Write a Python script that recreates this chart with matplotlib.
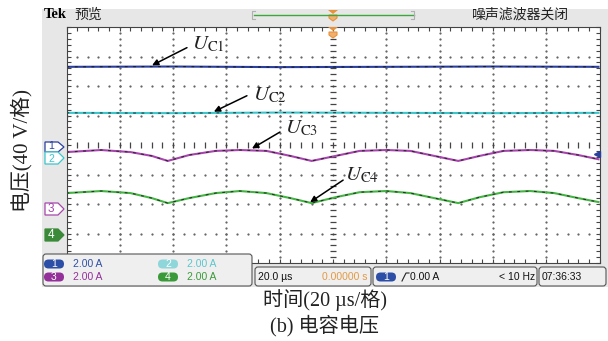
import numpy as np
import matplotlib.pyplot as plt
from matplotlib.patches import Rectangle, FancyBboxPatch, Polygon

W, H = 608, 341

# ---- data (time in us, trace level in divisions) ----
t_flat = [-100, -60, -20, 20, 60, 100]
uc1 = [2.65, 2.66, 2.64, 2.65, 2.66, 2.65]
uc2 = [1.09, 1.08, 1.10, 1.09, 1.08, 1.09]

t_wave = [-100, -87, -76, -68, -62, -54, -44, -35, -25, -16, -8, 1,
          10, 20, 29, 38, 47, 55, 64, 74, 83, 92, 100]
uc3 = [-0.24, -0.17, -0.24, -0.37, -0.54, -0.34, -0.20, -0.17, -0.20, -0.37, -0.54, -0.37,
       -0.20, -0.17, -0.20, -0.37, -0.54, -0.37, -0.20, -0.17, -0.20, -0.34, -0.49]
uc4 = [-1.63, -1.56, -1.63, -1.80, -1.97, -1.80, -1.63, -1.56, -1.63, -1.80, -1.97, -1.77,
       -1.60, -1.56, -1.63, -1.80, -1.97, -1.77, -1.60, -1.56, -1.63, -1.80, -1.94]

trace_names = [r'$U_{\mathrm{C1}}$', r'$U_{\mathrm{C2}}$', r'$U_{\mathrm{C3}}$', r'$U_{\mathrm{C4}}$']
trace_colors = ['#2b3f9e', '#3cc6cc', '#a645ac', '#45b445']
ch_ids = ['1', '2', '3', '4']
ch_scales = ['2.00 A', '2.00 A', '2.00 A', '2.00 A']
ch_text_colors = ['#2f4fa8', '#5cc6cc', '#93309a', '#3a9a3a']

plt.rcParams['font.family'] = ['Liberation Sans', 'Noto Sans CJK SC']
plt.rcParams['mathtext.fontset'] = 'stix'
SERIF = ['Liberation Serif', 'Noto Sans CJK SC']

fig = plt.figure(figsize=(W / 100, H / 100), dpi=100)

# gray scope frame (pixel coordinates)
bg = fig.add_axes([0, 0, 1, 1], zorder=0)
bg.set_xlim(0, W)
bg.set_ylim(H, 0)
bg.axis('off')
bg.add_patch(Rectangle((42, 9), 566, 278, fc='#e7e7e7', ec='none'))

# ---- graticule ----
x0, x1, y0, y1 = 66.5, 599.5, 27, 263
ax = fig.add_axes([x0 / W, 1 - y1 / H, (x1 - x0) / W, (y1 - y0) / H], zorder=1)
ax.set_xlim(-100, 100)
ax.set_ylim(-4, 4)
ax.set_facecolor('white')
for s in ax.spines.values():
    s.set_color('#444444')
    s.set_linewidth(0.8)
ax.set_xticks(np.arange(-100, 101, 20))
ax.set_yticks(np.arange(-4, 5, 1))
ax.set_xticks(np.arange(-100, 101, 4), minor=True)
ax.set_yticks(np.arange(-4, 4.01, 0.2), minor=True)
ax.tick_params(which='both', direction='in', top=True, right=True,
               labelbottom=False, labelleft=False, color='#444444', width=0.8, length=3)

yy = np.arange(-4, 4.01, 0.2)
xx = np.arange(-100, 101, 4)
for gx in np.arange(-80, 81, 20):
    if gx == 0:
        continue
    ax.plot(np.full_like(yy, gx), yy, ls='none', marker='s', ms=0.6, color='#666666')
for gy in np.arange(-3, 4, 1):
    if gy == 0:
        continue
    ax.plot(xx, np.full_like(xx, gy, dtype=float), ls='none', marker='s', ms=0.6, color='#666666')
# center cross with small ticks
ax.plot(np.zeros_like(yy), yy, ls='none', marker='_', ms=4, mew=0.9, color='#444444')
ax.plot(xx, np.zeros_like(xx, dtype=float), ls='none', marker='|', ms=4, mew=0.9, color='#444444')

# ---- traces ----
for t, v, c in [(t_flat, uc1, trace_colors[0]), (t_flat, uc2, trace_colors[1]),
                (t_wave, uc3, trace_colors[2]), (t_wave, uc4, trace_colors[3])]:
    ax.plot(t, v, color=c, lw=1.5, solid_capstyle='butt')
    ax.plot(t, v, color='#111111', lw=0.8, dashes=(2.5, 5), alpha=0.75)

# ---- labels with arrows ----
arrows = [((-67.9, 2.70), (-54.8, 3.30), (-53.0, 3.42)),
          ((-44.7, 1.13), (-32.3, 1.67), (-30.0, 1.70)),
          ((-30.4, -0.12), (-19.9, 0.44), (-18.0, 0.58)),
          ((-8.6, -1.94), (3.8, -1.19), (4.5, -1.02))]
for name, (tip, tail, txt) in zip(trace_names, arrows):
    ax.annotate('', xy=tip, xytext=tail,
                arrowprops=dict(arrowstyle='-|>', color='black', lw=1.1, mutation_scale=9,
                                shrinkA=0, shrinkB=0))
    ax.text(txt[0], txt[1], name, fontsize=15, ha='left', va='center', color='#222222')

# ---- overlay: header, channel markers, info panels ----
ov = fig.add_axes([0, 0, 1, 1], zorder=2)
ov.set_xlim(0, W)
ov.set_ylim(H, 0)
ov.axis('off')

ov.text(44, 15, 'Tek', fontsize=10.5, fontweight='bold', family=SERIF, va='center')
ov.text(74, 15, '预览', fontsize=10, va='center', color='#222222')
ov.text(472, 15, '噪声滤波器关闭', fontsize=10, va='center', color='#222222')
ov.plot([254, 414], [15, 15], color='#3aa83a', lw=1)
ov.plot([255, 252, 252, 255], [11, 11, 19, 19], color='#b0b0b0', lw=0.8)
ov.plot([411, 414, 414, 411], [11, 11, 19, 19], color='#b0b0b0', lw=0.8)
for ty in (10, 27):
    ov.add_patch(Polygon([(328, ty), (338, ty), (333, ty + 4)], fc='#e8923a', ec='none'))
    ov.add_patch(Polygon([(329, ty + 5), (337, ty + 5), (337, ty + 8), (333, ty + 11), (329, ty + 8)],
                         fc='#f2b070', ec='#e8923a', lw=0.8))

# channel ground markers (1 is partly hidden behind 2, as on the screen)
for cid, cy, hh, fill, edge, tc in [('1', 147, 5, 'white', trace_colors[0], trace_colors[0]),
                                    ('2', 158, 6, 'white', trace_colors[1], trace_colors[1]),
                                    ('3', 209, 6, 'white', trace_colors[2], trace_colors[2]),
                                    ('4', 235, 6, '#3a8a3a', '#3a8a3a', 'white')]:
    ov.add_patch(Polygon([(45, cy - hh), (58, cy - hh), (64, cy), (58, cy + hh), (45, cy + hh)],
                         fc=fill, ec=edge, lw=0.9))
    ov.text(51, cy - 1 if cid == '1' else cy + 0.5, cid, fontsize=7.5 if cid in '12' else 8.5,
            ha='center', va='center', color=tc)
ov.plot([597], [154], marker='<', ms=4, color=trace_colors[0])


def pill(x, y, w, label, color):
    ov.add_patch(FancyBboxPatch((x, y - 4.5), w, 9, boxstyle='round,pad=0,rounding_size=4.5',
                                fc=color, ec='none'))
    ov.text(x + w / 2, y + 0.3, label, fontsize=7.5, ha='center', va='center', color='white')


def panel(x, y, w, h):
    ov.add_patch(FancyBboxPatch((x, y), w, h, boxstyle='round,pad=0,rounding_size=3',
                                fc='#efefef', ec='#555555', lw=0.8))


panel(43, 254, 209, 32)
pill_colors = ['#2d4ea6', '#8fd6da', '#93309a', '#3a9a3a']
for i in range(4):
    px = 44 if i % 2 == 0 else 158
    py = 264 if i < 2 else 277
    pill(px, py, 20, ch_ids[i], pill_colors[i])
    ov.text(px + 29, py, ch_scales[i], fontsize=7.5, va='center', color=ch_text_colors[i])

panel(255, 267, 116, 19)
ov.text(258, 277, '20.0 \u00b5s', fontsize=7.5, va='center', color='#111111')
ov.text(368, 277, '0.00000 s', fontsize=7.5, va='center', ha='right', color='#e39a44')
panel(373, 267, 164, 19)
pill(376, 277, 20, '1', '#2d4ea6')
ov.plot([402, 406, 409], [281, 273, 273], color='#222222', lw=0.8)
ov.text(410, 277, '0.00 A', fontsize=7.5, va='center', color='#111111')
ov.text(535, 277, '< 10 Hz', fontsize=7.5, va='center', ha='right', color='#111111')
panel(539, 267, 67, 19)
ov.text(542, 277, '07:36:33', fontsize=7.5, va='center', color='#111111')

# axis captions
ov.text(22, 150, '电压(40 V/格)', fontsize=15, family=SERIF, rotation=90,
        ha='center', va='center', color='#222222')
ov.text(325, 300, '时间(20 \u00b5s/格)', fontsize=14.5, family=SERIF,
        ha='center', va='center', color='#222222')
ov.text(325, 326, '(b) 电容电压', fontsize=14.5, family=SERIF,
        ha='center', va='center', color='#222222')

fig.savefig('out.png', dpi=100)
